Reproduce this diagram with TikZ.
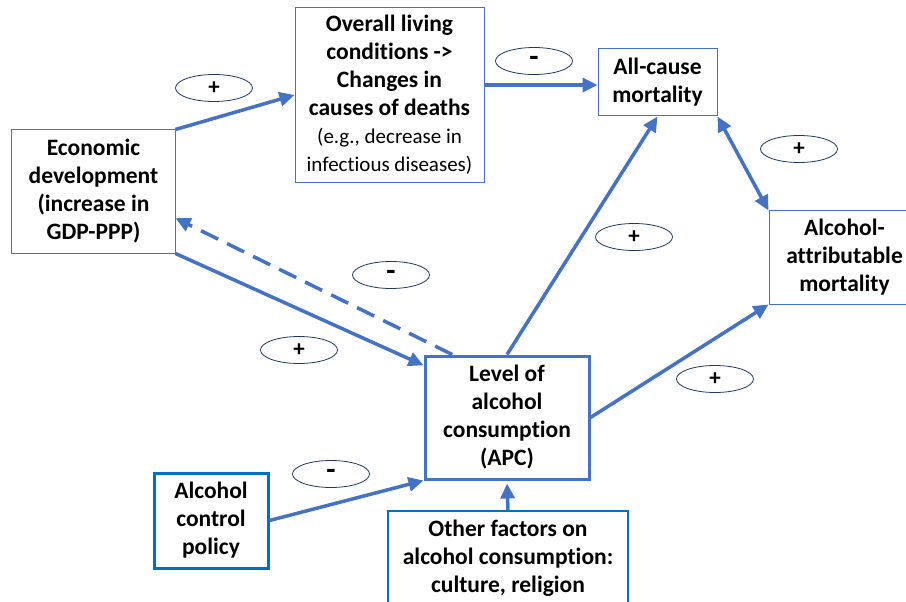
\documentclass[tikz,border=0pt]{standalone}
\usepackage{fontspec}
\setmainfont{Carlito}[Ligatures=NoCommon]
\usepackage{tikz}
\usetikzlibrary{arrows.meta,shapes.geometric}
\definecolor{cBlue}{HTML}{4472C4}
\definecolor{cBright}{HTML}{0070C0}
\definecolor{cNavy}{HTML}{1F3864}
\newcommand{\plain}{\mdseries\fontsize{21bp}{26bp}\selectfont}
\newcommand{\minus}{{\fontsize{30bp}{24bp}\selectfont -}}
\tikzset{
  box/.style={draw=#1,line width=1bp,align=center,inner sep=0pt,text=black,
    font=\fontsize{23.5bp}{28bp}\selectfont\bfseries},
  box/.default=cBlue,
  hbox/.style={box=#1,line width=3bp},
  hbox/.default=cBlue,
  arr/.style={-{Triangle[length=15bp,width=14bp]},line width=3.5bp,color=cBlue},
  darr/.style={{Triangle[length=15bp,width=14bp]}-{Triangle[length=15bp,width=14bp]},line width=3.5bp,color=cBlue},
  sgn/.style={ellipse,draw=cNavy,line width=0.8bp,fill=white,minimum width=77bp,minimum height=27bp,
    inner sep=0pt,font=\fontsize{23bp}{24bp}\selectfont\bfseries},
}

\begin{document}
\begin{tikzpicture}[x=1bp,y=-1bp]
    \clip (0,0) rectangle (906,602);
    \fill[white] (0,0) rectangle (906,602);
    \node[box,minimum width=163bp,minimum height=123bp] (econ) at (93.5,191.5) {Economic\\development\\(increase in\\GDP-PPP)};
    \node[box,minimum width=189bp,minimum height=174bp] (living) at (389.5,95) {Overall living\\conditions ->\\Changes in\\causes of deaths\\\plain (e.g., decrease in\\\plain infectious diseases)};
    \node[box,minimum width=119bp,minimum height=67bp] (allc) at (657.5,82.5) {All-cause\\mortality};
    \node[box,minimum width=151bp,minimum height=93bp] (attr) at (844.5,257.5) {Alcohol-\\attributable\\mortality};
    \node[hbox,minimum width=164bp,minimum height=123bp] (apc) at (507,417.5) {Level of\\alcohol\\consumption\\(APC)};
    \node[hbox=cBright,minimum width=114bp,minimum height=95bp] (policy) at (211,520.5) {Alcohol\\control\\policy};
    \node[box=cBright,line width=1.5bp,minimum width=240bp,minimum height=94bp] (other) at (508,558) {Other factors on\\alcohol consumption:\\culture, religion};
    % connectors
    \draw[arr] (econ.north east) -- (living.west);
    \draw[arr] (living.6) -- (living.6 -| allc.west);
    \draw[arr] (apc.north) -- (allc.south);
    \draw[darr] (allc.south east) -- (attr.north west);
    \draw[arr] (apc.east) -- (attr.south west);
    \draw[arr] (econ.south east) -- (apc.148);
    \draw[arr,dash pattern=on 19bp off 10bp] (apc.131) -- (econ.-18);
    \draw[arr] (policy.east) -- (apc.south west);
    \draw[arr,shorten >=3bp] (other.north) -- (apc.south);
    % signs
    \node[sgn] (s1) at (214,88) {+};
    \node[sgn] (s2) at (534,61) {\minus};
    \node[sgn] (s3) at (799,149) {+};
    \node[sgn] (s4) at (634,237) {+};
    \node[sgn] (s5) at (391,275) {\minus};
    \node[sgn] (s6) at (299,350) {+};
    \node[sgn] (s7) at (331,474) {\minus};
    \node[sgn] (s8) at (715,379) {+};
  \end{tikzpicture}
\end{document}
